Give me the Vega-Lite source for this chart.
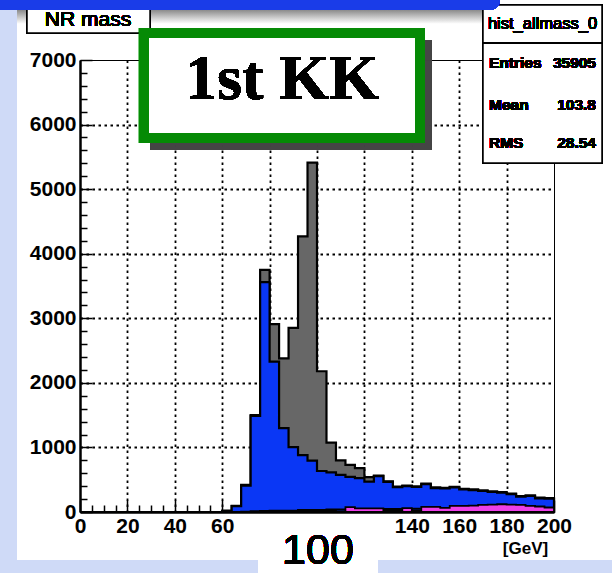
{
  "$schema": "https://vega.github.io/schema/vega-lite/v6.json",
  "autosize": "none",
  "width": 474,
  "height": 452,
  "padding": {"left": 80, "top": 60, "right": 58, "bottom": 61},
  "background": "white",
  "config": {"view": {"stroke": "black", "strokeWidth": 1}},
  "datasets": {
    "h": [
      {"lo": 0, "all": 0, "sel": 0, "pink": 0, "blk": 0},
      {"lo": 4, "all": 0, "sel": 0, "pink": 0, "blk": 0},
      {"lo": 8, "all": 0, "sel": 0, "pink": 0, "blk": 0},
      {"lo": 12, "all": 0, "sel": 0, "pink": 0, "blk": 0},
      {"lo": 16, "all": 0, "sel": 0, "pink": 0, "blk": 0},
      {"lo": 20, "all": 0, "sel": 0, "pink": 0, "blk": 0},
      {"lo": 24, "all": 0, "sel": 0, "pink": 0, "blk": 0},
      {"lo": 28, "all": 0, "sel": 0, "pink": 0, "blk": 0},
      {"lo": 32, "all": 0, "sel": 0, "pink": 0, "blk": 0},
      {"lo": 36, "all": 0, "sel": 0, "pink": 0, "blk": 0},
      {"lo": 40, "all": 0, "sel": 0, "pink": 0, "blk": 0},
      {"lo": 44, "all": 0, "sel": 0, "pink": 0, "blk": 0},
      {"lo": 48, "all": 0, "sel": 0, "pink": 0, "blk": 0},
      {"lo": 52, "all": 0, "sel": 0, "pink": 0, "blk": 0},
      {"lo": 56, "all": 0, "sel": 0, "pink": 0, "blk": 0},
      {"lo": 60, "all": 20, "sel": 15, "pink": 0, "blk": 0},
      {"lo": 64, "all": 95, "sel": 90, "pink": 0, "blk": 0},
      {"lo": 68, "all": 420, "sel": 410, "pink": 0, "blk": 5},
      {"lo": 72, "all": 1500, "sel": 1490, "pink": 0, "blk": 10},
      {"lo": 76, "all": 3750, "sel": 3560, "pink": 0, "blk": 15},
      {"lo": 80, "all": 2910, "sel": 2330, "pink": 0, "blk": 20},
      {"lo": 84, "all": 2380, "sel": 1300, "pink": 0, "blk": 20},
      {"lo": 88, "all": 2850, "sel": 1005, "pink": 0, "blk": 20},
      {"lo": 92, "all": 4270, "sel": 880, "pink": 0, "blk": 30},
      {"lo": 96, "all": 5410, "sel": 795, "pink": 30, "blk": 30},
      {"lo": 100, "all": 2180, "sel": 635, "pink": 0, "blk": 30},
      {"lo": 104, "all": 1075, "sel": 615, "pink": 30, "blk": 40},
      {"lo": 108, "all": 800, "sel": 575, "pink": 10, "blk": 40},
      {"lo": 112, "all": 730, "sel": 545, "pink": 75, "blk": 40},
      {"lo": 116, "all": 680, "sel": 525, "pink": 55, "blk": 40},
      {"lo": 120, "all": 540, "sel": 470, "pink": 55, "blk": 40},
      {"lo": 124, "all": 565, "sel": 555, "pink": 55, "blk": 45},
      {"lo": 128, "all": 475, "sel": 465, "pink": 20, "blk": 45},
      {"lo": 132, "all": 395, "sel": 385, "pink": 25, "blk": 45},
      {"lo": 136, "all": 410, "sel": 400, "pink": 60, "blk": 45},
      {"lo": 140, "all": 397, "sel": 387, "pink": 20, "blk": 50},
      {"lo": 144, "all": 440, "sel": 430, "pink": 80, "blk": 50},
      {"lo": 148, "all": 380, "sel": 370, "pink": 80, "blk": 50},
      {"lo": 152, "all": 375, "sel": 365, "pink": 65, "blk": 55},
      {"lo": 156, "all": 390, "sel": 380, "pink": 95, "blk": 55},
      {"lo": 160, "all": 360, "sel": 350, "pink": 95, "blk": 55},
      {"lo": 164, "all": 350, "sel": 340, "pink": 100, "blk": 55},
      {"lo": 168, "all": 335, "sel": 325, "pink": 110, "blk": 60},
      {"lo": 172, "all": 320, "sel": 310, "pink": 115, "blk": 60},
      {"lo": 176, "all": 310, "sel": 300, "pink": 120, "blk": 60},
      {"lo": 180, "all": 285, "sel": 275, "pink": 115, "blk": 60},
      {"lo": 184, "all": 247, "sel": 237, "pink": 110, "blk": 60},
      {"lo": 188, "all": 258, "sel": 248, "pink": 95, "blk": 60},
      {"lo": 192, "all": 222, "sel": 212, "pink": 85, "blk": 55},
      {"lo": 196, "all": 215, "sel": 205, "pink": 70, "blk": 55},
      {"lo": 200, "all": 215, "sel": 205, "pink": 70, "blk": 55}
    ]
  },
  "data": {"name": "h"},
  "layer": [
    {
      "mark": {"type": "area", "interpolate": "step-after", "fill": "#676767", "stroke": "black", "strokeWidth": 2.2, "clip": false},
      "encoding": {
        "x": {"field": "lo", "type": "quantitative", "scale": {"domain": [0, 200], "nice": false, "zero": false},
          "title": "[GeV]",
          "axis": {
            "values": [0,5,10,15,20,25,30,35,40,45,50,55,60,65,70,75,80,85,90,95,100,105,110,115,120,125,130,135,140,145,150,155,160,165,170,175,180,185,190,195,200],
            "tickCount": 100,
            "labelExpr": "(datum.value % 20 === 0 && (datum.value < 80 || datum.value > 120)) ? datum.label : ''",
            "labelOverlap": false,
            "labelFlush": false,
            "labelFont": "Liberation Sans", "labelFontWeight": "bold", "labelFontSize": 21, "labelColor": "black", "labelPadding": 15,
            "domainColor": "black", "domainWidth": 2.5,
            "tickColor": "black", "tickWidth": 1.5,
            "tickSize": {"condition": {"test": "datum.value % 20 === 0", "value": -12}, "value": -7},
            "grid": true, "gridColor": "black", "gridDash": [2.5, 3.5], "gridWidth": 1.8,
            "gridOpacity": {"condition": {"test": "datum.value % 20 === 0 && datum.value > 0 && datum.value < 200", "value": 1}, "value": 0},
            "titleFont": "Liberation Sans", "titleFontWeight": "bold", "titleFontSize": 17, "titleColor": "black",
            "titleX": 445, "titleY": 36, "titleAlign": "center", "titleBaseline": "middle", "titleAnchor": null
          }
        },
        "y": {"field": "all", "type": "quantitative", "scale": {"domain": [0, 7000], "nice": false},
          "title": null,
          "axis": {
            "values": [0,200,400,600,800,1000,1200,1400,1600,1800,2000,2200,2400,2600,2800,3000,3200,3400,3600,3800,4000,4200,4400,4600,4800,5000,5200,5400,5600,5800,6000,6200,6400,6600,6800,7000],
            "tickCount": 100,
            "labelExpr": "datum.value % 1000 === 0 ? datum.value + '' : ''",
            "labelOverlap": false,
            "labelFont": "Liberation Sans", "labelFontWeight": "bold", "labelFontSize": 21, "labelColor": "black", "labelPadding": 16,
            "domainColor": "black", "domainWidth": 2.5,
            "tickColor": "black", "tickWidth": 1.5,
            "tickSize": {"condition": {"test": "datum.value % 1000 === 0", "value": -12}, "value": -7},
            "grid": true, "gridColor": "black", "gridDash": [2.5, 3.5], "gridWidth": 1.8,
            "gridOpacity": {"condition": {"test": "datum.value % 1000 === 0 && datum.value > 0 && datum.value < 7000", "value": 1}, "value": 0}
          }
        }
      }
    },
    {
      "mark": {"type": "rect", "fill": "#cfdaf7", "clip": false},
      "encoding": {
        "x": {"datum": -40, "type": "quantitative"},
        "x2": {"datum": -26.58},
        "y": {"datum": 8100, "type": "quantitative"},
        "y2": {"datum": -1000}
      }
    },
    {
      "mark": {"type": "rect", "fill": "#cfdaf7", "clip": false},
      "encoding": {
        "x": {"datum": -40, "type": "quantitative"},
        "x2": {"datum": 230},
        "y": {"datum": -743, "type": "quantitative"},
        "y2": {"datum": -1000}
      }
    },
    {
      "mark": {"type": "area", "interpolate": "step-after", "fill": "#0a37f5", "stroke": "black", "strokeWidth": 2.2, "clip": false},
      "encoding": {
        "x": {"field": "lo", "type": "quantitative"},
        "y": {"field": "sel", "type": "quantitative"}
      }
    },
    {
      "mark": {"type": "line", "interpolate": "step-after", "color": "black", "strokeWidth": 2, "clip": false},
      "encoding": {
        "x": {"field": "lo", "type": "quantitative"},
        "y": {"field": "blk", "type": "quantitative"}
      }
    },
    {
      "mark": {"type": "area", "interpolate": "step-after", "fill": "#ee3fe8", "stroke": "black", "strokeWidth": 1.8, "clip": false},
      "encoding": {
        "x": {"field": "lo", "type": "quantitative"},
        "y": {"field": "pink", "type": "quantitative"}
      }
    },
    {
      "mark": {"type": "rect", "clip": false, "fill": {"x1": 0, "y1": 0, "x2": 0, "y2": 1, "gradient": "linear", "stops": [{"offset": 0, "color": "#7a7a7a"}, {"offset": 1, "color": "#ffffff"}]}, "opacity": 0.8},
      "encoding": {
        "x": {"datum": -26.58, "type": "quantitative"},
        "x2": {"datum": 179.5},
        "y": {"datum": 7805, "type": "quantitative"},
        "y2": {"datum": 7560}
      }
    },
    {
      "mark": {"type": "rect", "fill": "white", "stroke": "black", "strokeWidth": 1.5, "clip": false},
      "encoding": {
        "x": {"datum": -22.36, "type": "quantitative"},
        "x2": {"datum": 29.54},
        "y": {"datum": 7883, "type": "quantitative"},
        "y2": {"datum": 7418}
      }
    },
    {
      "mark": {"type": "text", "text": "NR mass", "font": "Liberation Sans", "fontSize": 21, "align": "center", "baseline": "middle", "color": "black", "clip": false},
      "encoding": {
        "x": {"datum": 3.38, "type": "quantitative"},
        "y": {"datum": 7620, "type": "quantitative"}
      }
    },
    {
      "mark": {"type": "rect", "fill": "white", "stroke": "black", "strokeWidth": 1.5, "clip": false},
      "encoding": {
        "x": {"datum": 170.04, "type": "quantitative"},
        "x2": {"datum": 220.25},
        "y": {"datum": 7852, "type": "quantitative"},
        "y2": {"datum": 5405}
      }
    },
    {
      "mark": {"type": "rule", "color": "black", "strokeWidth": 1.5, "clip": false},
      "encoding": {
        "x": {"datum": 170.04, "type": "quantitative"},
        "x2": {"datum": 220.25},
        "y": {"datum": 7263, "type": "quantitative"}
      }
    },
    {
      "mark": {"type": "text", "text": "hist_allmass_0", "font": "Liberation Sans", "fontSize": 16.5, "align": "center", "baseline": "middle", "color": "black", "clip": false},
      "encoding": {
        "x": {"datum": 195.15, "type": "quantitative"},
        "y": {"datum": 7558, "type": "quantitative"}
      }
    },
    {
      "mark": {"type": "text", "text": "Entries", "font": "Liberation Sans", "fontWeight": "bold", "fontSize": 15.5, "align": "left", "baseline": "middle", "color": "black", "clip": false},
      "encoding": {"x": {"datum": 172.57, "type": "quantitative"}, "y": {"datum": 6954, "type": "quantitative"}}
    },
    {
      "mark": {"type": "text", "text": "35905", "font": "Liberation Sans", "fontWeight": "bold", "fontSize": 15.5, "align": "right", "baseline": "middle", "color": "black", "clip": false},
      "encoding": {"x": {"datum": 217.72, "type": "quantitative"}, "y": {"datum": 6954, "type": "quantitative"}}
    },
    {
      "mark": {"type": "text", "text": "Mean", "font": "Liberation Sans", "fontWeight": "bold", "fontSize": 15.5, "align": "left", "baseline": "middle", "color": "black", "clip": false},
      "encoding": {"x": {"datum": 172.57, "type": "quantitative"}, "y": {"datum": 6303, "type": "quantitative"}}
    },
    {
      "mark": {"type": "text", "text": "103.8", "font": "Liberation Sans", "fontWeight": "bold", "fontSize": 15.5, "align": "right", "baseline": "middle", "color": "black", "clip": false},
      "encoding": {"x": {"datum": 217.72, "type": "quantitative"}, "y": {"datum": 6303, "type": "quantitative"}}
    },
    {
      "mark": {"type": "text", "text": "RMS", "font": "Liberation Sans", "fontWeight": "bold", "fontSize": 15.5, "align": "left", "baseline": "middle", "color": "black", "clip": false},
      "encoding": {"x": {"datum": 172.57, "type": "quantitative"}, "y": {"datum": 5715, "type": "quantitative"}}
    },
    {
      "mark": {"type": "text", "text": "28.54", "font": "Liberation Sans", "fontWeight": "bold", "fontSize": 15.5, "align": "right", "baseline": "middle", "color": "black", "clip": false},
      "encoding": {"x": {"datum": 217.72, "type": "quantitative"}, "y": {"datum": 5715, "type": "quantitative"}}
    },
    {
      "mark": {"type": "rect", "fill": "#444444", "opacity": 0.45, "clip": false},
      "encoding": {
        "x": {"datum": 29.54, "type": "quantitative"},
        "x2": {"datum": 148.5},
        "y": {"datum": 7310, "type": "quantitative"},
        "y2": {"datum": 5606}
      }
    },
    {
      "mark": {"type": "rect", "fill": "white", "stroke": "#058a05", "strokeWidth": 10, "clip": false},
      "encoding": {
        "x": {"datum": 27.0, "type": "quantitative"},
        "x2": {"datum": 143.46},
        "y": {"datum": 7418, "type": "quantitative"},
        "y2": {"datum": 5792}
      }
    },
    {
      "mark": {"type": "text", "text": "1st KK", "font": "Liberation Serif", "fontWeight": "bold", "fontSize": 64, "align": "center", "baseline": "middle", "color": "black", "clip": false},
      "encoding": {
        "x": {"datum": 85.23, "type": "quantitative"},
        "y": {"datum": 6690, "type": "quantitative"}
      }
    },
    {
      "mark": {"type": "rect", "fill": "white", "clip": false},
      "encoding": {
        "x": {"datum": 75.1, "type": "quantitative"},
        "x2": {"datum": 125.74},
        "y": {"datum": -46.5, "type": "quantitative"},
        "y2": {"datum": -1053}
      }
    },
    {
      "mark": {"type": "text", "text": "100", "font": "Liberation Sans", "fontSize": 43, "align": "center", "baseline": "middle", "color": "black", "clip": false},
      "encoding": {
        "x": {"datum": 100.42, "type": "quantitative"},
        "y": {"datum": -604, "type": "quantitative"}
      }
    },
    {
      "mark": {"type": "rect", "fill": "#1a3ce8", "cornerRadiusBottomRight": 10, "clip": false},
      "encoding": {
        "x": {"datum": -40, "type": "quantitative"},
        "x2": {"datum": 177.2},
        "y": {"datum": 8100, "type": "quantitative"},
        "y2": {"datum": 7774}
      }
    }
  ]
}
